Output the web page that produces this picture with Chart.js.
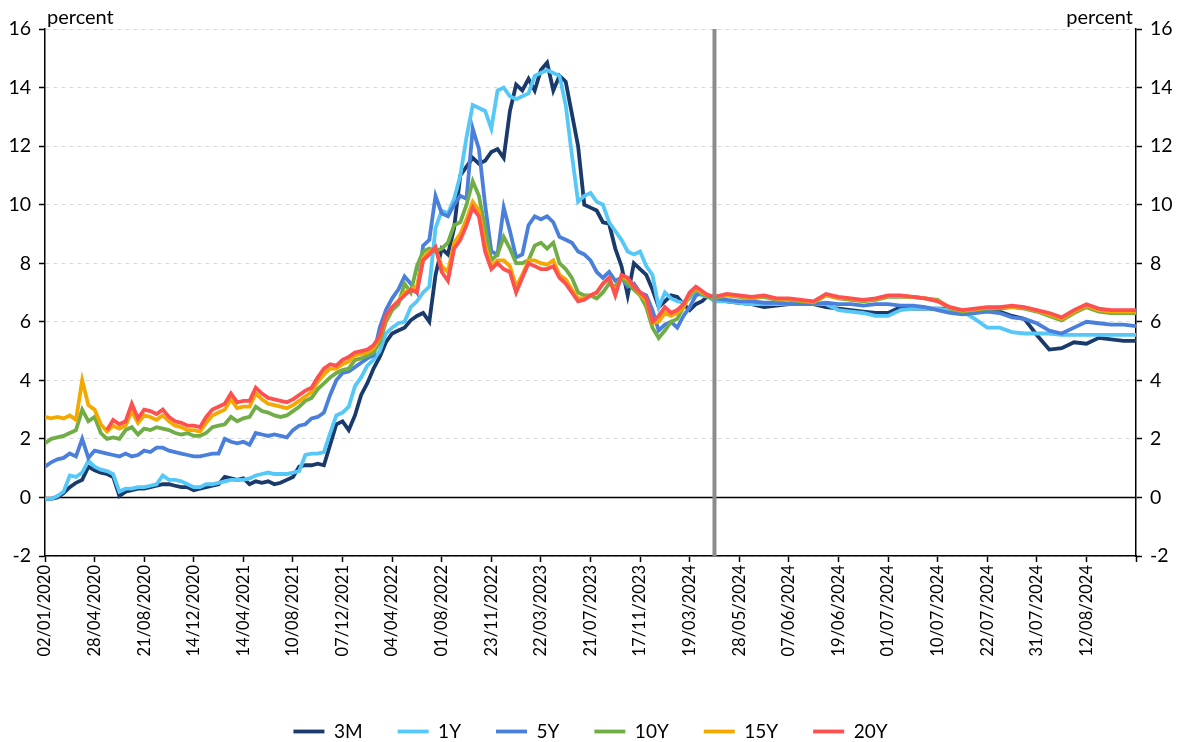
<!DOCTYPE html>
<html>
<head>
<meta charset="utf-8">
<script src="https://cdn.jsdelivr.net/npm/chart.js@4.4.1/dist/chart.umd.min.js"></script>
<style>
  html, body { margin: 0; padding: 0; background: #fff; }
</style>
</head>
<body>
<canvas id="myChart" width="1181" height="742"></canvas>
<script>
// tick labels, one every 8 trading days (last tick is the right edge)
const tickLabels = [
    "02/01/2020", "28/04/2020", "21/08/2020", "14/12/2020", "14/04/2021", "10/08/2021",
    "07/12/2021", "04/04/2022", "01/08/2022", "23/11/2022", "22/03/2023", "21/07/2023",
    "17/11/2023", "19/03/2024", "28/05/2024", "07/06/2024", "19/06/2024", "01/07/2024",
    "10/07/2024", "22/07/2024", "31/07/2024", "12/08/2024"
];
const seriesNames = ["3M", "1Y", "5Y", "10Y", "15Y", "20Y"];
const unitLabel = "percent";

// history up to the split line (8 readings per tick interval)
const hist3M = [
    -0.05, -0.05, 0.0, 0.15, 0.35, 0.5, 0.6, 1.05,
    0.93, 0.85, 0.8, 0.7, 0.05, 0.2, 0.25, 0.3,
    0.3, 0.35, 0.4, 0.45, 0.45, 0.4, 0.35, 0.35,
    0.25, 0.3, 0.35, 0.4, 0.45, 0.7, 0.65, 0.6,
    0.65, 0.45, 0.55, 0.5, 0.55, 0.45, 0.5, 0.6,
    0.7, 1.05, 1.1, 1.1, 1.15, 1.1, 1.8, 2.5,
    2.6, 2.3, 2.8, 3.5, 3.9, 4.4, 4.8, 5.3,
    5.6, 5.7, 5.8, 6.05, 6.2, 6.3, 6.0, 7.6,
    8.5, 8.3, 9.2, 11.0, 11.3, 11.6, 11.4, 11.5,
    11.8, 11.9, 11.6, 13.2, 14.1, 13.9, 14.3, 13.9,
    14.6, 14.85, 13.9, 14.4, 14.2, 13.1, 12.0, 10.0,
    9.9, 9.8, 9.4, 9.35, 8.5, 7.9, 6.9, 8.0,
    7.8, 7.6, 7.1, 6.5, 6.7, 6.9, 6.85, 6.6,
    6.4, 6.6, 6.7, 6.9, 6.85
];
const hist1Y = [
    -0.05, -0.05, 0.05, 0.2, 0.75, 0.7, 0.85, 1.25,
    1.05, 0.95, 0.9, 0.8, 0.2, 0.3, 0.3, 0.35,
    0.35, 0.4, 0.45, 0.75, 0.6, 0.6, 0.55, 0.45,
    0.35, 0.35, 0.45, 0.45, 0.5, 0.55, 0.6, 0.6,
    0.6, 0.65, 0.75, 0.8, 0.85, 0.8, 0.8, 0.8,
    0.85, 0.9, 1.45, 1.5, 1.5, 1.55, 2.2, 2.8,
    2.9, 3.1, 3.8, 4.1, 4.5, 4.7, 5.0, 5.6,
    5.8, 5.95, 6.0, 6.5, 6.7, 7.0, 7.2, 9.2,
    9.8, 9.7, 10.2, 11.0, 12.3, 13.4, 13.3, 13.2,
    12.6, 13.9, 14.0, 13.7, 13.6, 13.7, 13.8, 14.4,
    14.5, 14.6, 14.5, 14.4, 13.4, 11.7, 10.1, 10.3,
    10.4, 10.1, 10.0, 9.4, 9.1, 8.8, 8.4, 8.3,
    8.4, 7.9, 7.6, 6.5, 7.0, 6.8, 6.7, 6.65,
    6.8, 7.0, 6.9, 6.85, 6.7
];
const hist5Y = [
    1.05, 1.2, 1.3, 1.35, 1.5, 1.4, 2.0, 1.35,
    1.6, 1.55, 1.5, 1.45, 1.4, 1.5, 1.4, 1.45,
    1.6, 1.55, 1.7, 1.7, 1.6, 1.55, 1.5, 1.45,
    1.4, 1.4, 1.45, 1.5, 1.5, 2.0, 1.9, 1.85,
    1.9, 1.8, 2.2, 2.15, 2.1, 2.15, 2.1, 2.05,
    2.3, 2.45, 2.5, 2.7, 2.75, 2.9, 3.5, 4.0,
    4.25, 4.3, 4.45, 4.6, 4.75, 4.85, 5.8, 6.4,
    6.8, 7.1, 7.55, 7.3, 7.0, 8.6, 8.8, 10.3,
    9.7, 9.6, 10.0, 10.3, 10.2, 12.6, 11.9, 10.0,
    8.4, 8.3, 9.9, 9.1, 8.2, 8.3, 9.3, 9.6,
    9.5, 9.6, 9.4, 8.9, 8.8, 8.7, 8.4, 8.3,
    8.1, 7.7, 7.5, 7.7, 7.4, 7.5, 7.2, 7.3,
    7.0, 6.9, 6.4, 5.7, 5.9, 6.0, 5.8, 6.2,
    6.5, 6.9, 7.0, 6.9, 6.8
];
const hist10Y = [
    1.85, 2.0, 2.05, 2.1, 2.2, 2.3, 3.0, 2.6,
    2.75, 2.2, 2.0, 2.05, 2.0, 2.3, 2.4, 2.15,
    2.35, 2.3, 2.4, 2.35, 2.3, 2.2, 2.15, 2.2,
    2.1, 2.1, 2.2, 2.4, 2.45, 2.5, 2.75, 2.6,
    2.7, 2.75, 3.1, 2.95, 2.9, 2.8, 2.75, 2.8,
    2.95, 3.1, 3.3, 3.4, 3.7, 3.9, 4.1, 4.25,
    4.35, 4.4, 4.7, 4.75, 4.85, 4.95, 5.3, 6.0,
    6.4, 6.6, 7.3, 7.0, 7.9, 8.4, 8.5, 8.4,
    8.5, 8.7, 9.3, 9.4, 10.0, 10.8, 10.3, 9.2,
    8.1, 8.3, 8.9, 8.5, 8.0, 8.0, 8.1, 8.6,
    8.7, 8.5, 8.7, 8.0, 7.8, 7.5, 7.0, 6.9,
    6.9, 6.8, 7.0, 7.3, 7.2, 7.5, 7.3, 7.1,
    6.9, 6.5, 5.8, 5.45, 5.7, 6.0, 6.1, 6.5,
    6.9, 7.1, 6.95, 6.85, 6.8
];
const hist15Y = [
    2.75, 2.7, 2.75, 2.7, 2.8, 2.65, 4.0, 3.15,
    3.0, 2.5, 2.25, 2.45, 2.35, 2.45, 2.95, 2.55,
    2.8, 2.75, 2.65, 2.8, 2.6, 2.45, 2.4, 2.3,
    2.3, 2.25, 2.55, 2.8, 2.9, 3.0, 3.35, 3.05,
    3.1, 3.1, 3.55, 3.35, 3.2, 3.15, 3.1, 3.05,
    3.15, 3.3, 3.45, 3.6, 3.95, 4.2, 4.4, 4.4,
    4.55, 4.65, 4.85, 4.9, 4.95, 5.1, 5.45, 6.15,
    6.5, 6.7, 7.0, 7.1, 7.2, 8.2, 8.4, 8.5,
    7.9, 7.7, 8.7, 9.0, 9.5, 10.1, 9.8, 8.6,
    7.9, 8.1, 8.1, 7.9, 7.2, 7.6, 8.1, 8.1,
    8.0, 7.95, 8.1, 7.6, 7.45, 7.1, 6.8, 6.8,
    6.9, 7.0, 7.3, 7.5, 7.0, 7.55, 7.45, 7.2,
    6.95, 6.7, 5.95, 6.0, 6.3, 6.2, 6.3, 6.5,
    6.95, 7.15, 7.0, 6.9, 6.85
];
const hist20Y = [
    null, null, null, null, null, null, null, null,
    null, null, 2.3, 2.65, 2.5, 2.6, 3.2, 2.7,
    3.0, 2.95, 2.85, 3.0, 2.75, 2.6, 2.55, 2.45,
    2.45, 2.4, 2.75, 3.0, 3.1, 3.2, 3.55, 3.25,
    3.3, 3.3, 3.75, 3.55, 3.4, 3.35, 3.3, 3.25,
    3.35, 3.5, 3.65, 3.75, 4.1, 4.4, 4.55, 4.5,
    4.7, 4.8, 4.95, 5.0, 5.05, 5.2, 5.5, 6.2,
    6.5, 6.7, 6.9, 7.1, 7.0, 8.1, 8.3, 8.55,
    7.7, 7.4, 8.5, 8.8, 9.3, 9.9, 9.6, 8.4,
    7.8, 8.0, 7.8, 7.7, 7.0, 7.5, 8.0, 7.9,
    7.8, 7.8, 7.9, 7.5, 7.3, 7.0, 6.7, 6.75,
    6.9, 7.0, 7.3, 7.5, 6.9, 7.6, 7.5, 7.2,
    7.0, 6.8, 6.0, 6.2, 6.5, 6.3, 6.4, 6.6,
    7.0, 7.2, 7.05, 6.9, 6.85
];

// daily period after the split line (4 readings per tick interval)
const recent3M = [6.7, 6.65, 6.6, 6.5, 6.55, 6.6, 6.6, 6.6, 6.5, 6.45, 6.4, 6.35, 6.3, 6.3, 6.5, 6.45, 6.45,
    6.45, 6.45, 6.35, 6.4, 6.4, 6.35, 6.2, 6.1, 5.55, 5.05, 5.1, 5.3, 5.25, 5.45, 5.4, 5.35, 5.35];
const recent1Y = [6.7, 6.65, 6.6, 6.6, 6.6, 6.6, 6.6, 6.6, 6.6, 6.4, 6.35, 6.3, 6.2, 6.2, 6.4, 6.45, 6.45,
    6.45, 6.4, 6.35, 6.1, 5.8, 5.8, 5.65, 5.6, 5.6, 5.6, 5.55, 5.55, 5.55, 5.55, 5.55, 5.55, 5.55];
const recent5Y = [6.75, 6.7, 6.7, 6.65, 6.65, 6.6, 6.6, 6.6, 6.65, 6.6, 6.6, 6.55, 6.6, 6.6, 6.55, 6.55, 6.5,
    6.4, 6.3, 6.25, 6.3, 6.35, 6.3, 6.15, 6.1, 5.95, 5.7, 5.6, 5.8, 6.0, 5.95, 5.9, 5.9, 5.85];
const recent10Y = [6.9, 6.85, 6.8, 6.85, 6.75, 6.75, 6.7, 6.65, 6.9, 6.8, 6.75, 6.7, 6.75, 6.85, 6.85, 6.85, 6.8,
    6.75, 6.45, 6.35, 6.4, 6.45, 6.45, 6.5, 6.45, 6.35, 6.2, 6.05, 6.3, 6.5, 6.35, 6.3, 6.3, 6.3];
const recent15Y = [6.92, 6.88, 6.82, 6.88, 6.78, 6.78, 6.72, 6.68, 6.92, 6.82, 6.78, 6.72, 6.78, 6.88, 6.88, 6.85, 6.8,
    6.72, 6.48, 6.38, 6.42, 6.48, 6.48, 6.52, 6.48, 6.38, 6.25, 6.1, 6.35, 6.55, 6.4, 6.35, 6.35, 6.35];
const recent20Y = [6.95, 6.9, 6.85, 6.9, 6.8, 6.8, 6.75, 6.7, 6.95, 6.85, 6.8, 6.75, 6.8, 6.9, 6.9, 6.85, 6.8,
    6.7, 6.5, 6.4, 6.45, 6.5, 6.5, 6.55, 6.5, 6.4, 6.3, 6.15, 6.4, 6.6, 6.45, 6.4, 6.4, 6.4];

const histData = [hist3M, hist1Y, hist5Y, hist10Y, hist15Y, hist20Y];
const recentData = [recent3M, recent1Y, recent5Y, recent10Y, recent15Y, recent20Y];
const seriesColors = ["#1b3a6c", "#55c8f7", "#4a7fdc", "#70ad47", "#f5a800", "#ff5050"];

const splitAt = 13.5;   // position of the grey separator, in tick intervals
const FONT = "Lato, 'Open Sans', sans-serif";

// history is 8 points per tick, recent period 4 per tick
function toPoints(hist, recent) {
    const pts = [];
    hist.forEach((v, i) => pts.push({ x: i / 8, y: v }));
    recent.forEach((v, j) => pts.push({ x: splitAt + (j + 1) / 4, y: v }));
    return pts;
}

const datasets = seriesNames.map((name, k) => ({
    label: name,
    data: toPoints(histData[k], recentData[k]),
    borderColor: seriesColors[k],
    backgroundColor: seriesColors[k],
    borderWidth: 3.8,
    pointRadius: 0,
    tension: 0,
    order: seriesNames.length - k
}));
// zero line and the grey split line
datasets.push({
    label: "zero",
    data: [{ x: 0, y: 0 }, { x: tickLabels.length, y: 0 }],
    borderColor: "#000", borderWidth: 1.5, pointRadius: 0, order: 10
});
datasets.push({
    label: "split",
    data: [{ x: splitAt, y: -2 }, { x: splitAt, y: 16 }],
    borderColor: "#8c8c8c", borderWidth: 4, pointRadius: 0, order: 0
});

const unitText = {
    id: "unitText",
    afterDraw(chart) {
        const { ctx, chartArea } = chart;
        ctx.save();
        ctx.font = "20px " + FONT;
        ctx.fillStyle = "#000";
        ctx.textBaseline = "alphabetic";
        ctx.textAlign = "left";
        ctx.fillText(unitLabel, chartArea.left + 2, chartArea.top - 5);
        ctx.textAlign = "right";
        ctx.fillText(unitLabel, chartArea.right - 3, chartArea.top - 5);
        ctx.restore();
    }
};

Chart.defaults.font.family = FONT;
Chart.defaults.color = "#000";

const config = {
    type: "line",
    data: { datasets },
    options: {
        responsive: false,
        animation: false,
        layout: { padding: { top: 29, left: 0, right: 0, bottom: -9 } },
        plugins: {
            tooltip: { enabled: false },
            legend: {
                position: "bottom",
                reverse: true,
                labels: {
                    usePointStyle: true,
                    pointStyle: "line",
                    pointStyleWidth: 31,
                    boxHeight: 19,
                    padding: 35,
                    font: { size: 19 },
                    color: "#000",
                    filter: (item) => item.text !== "zero" && item.text !== "split"
                }
            }
        },
        scales: {
            x: {
                type: "linear",
                min: 0,
                max: tickLabels.length,
                afterBuildTicks: (axis) => {
                    axis.ticks = tickLabels.map((_, i) => ({ value: i }));
                    axis.ticks.push({ value: tickLabels.length });
                },
                ticks: {
                    autoSkip: false,
                    minRotation: 90,
                    maxRotation: 90,
                    padding: 3,
                    font: { size: 16.5 },
                    callback: (v) => tickLabels[v] || ""
                },
                grid: { drawOnChartArea: false, tickLength: 6, tickColor: "#000", tickWidth: 1.5 },
                border: { color: "#000", width: 1.5 },
                afterFit: (s) => { s.height = 131; }
            },
            y: {
                min: -2,
                max: 16,
                ticks: { stepSize: 2, padding: 8, font: { size: 19.5 } },
                grid: {
                    color: "#d9d9d9", lineWidth: 1,
                    tickColor: "#000", tickLength: 6, tickWidth: 1.5, tickBorderDash: [10, 0]
                },
                border: { color: "#000", width: 1.5, dash: [4, 4] },
                afterFit: (s) => { s.width = 45; }
            },
            y2: {
                position: "right",
                min: -2,
                max: 16,
                ticks: { stepSize: 2, padding: 8, font: { size: 19.5 } },
                grid: { drawOnChartArea: false, tickColor: "#000", tickLength: 6, tickWidth: 1.5 },
                border: { color: "#000", width: 1.5 },
                afterFit: (s) => { s.width = 45; }
            }
        }
    },
    plugins: [unitText]
};

const myChart = new Chart(document.getElementById("myChart"), config);
</script>
</body>
</html>
